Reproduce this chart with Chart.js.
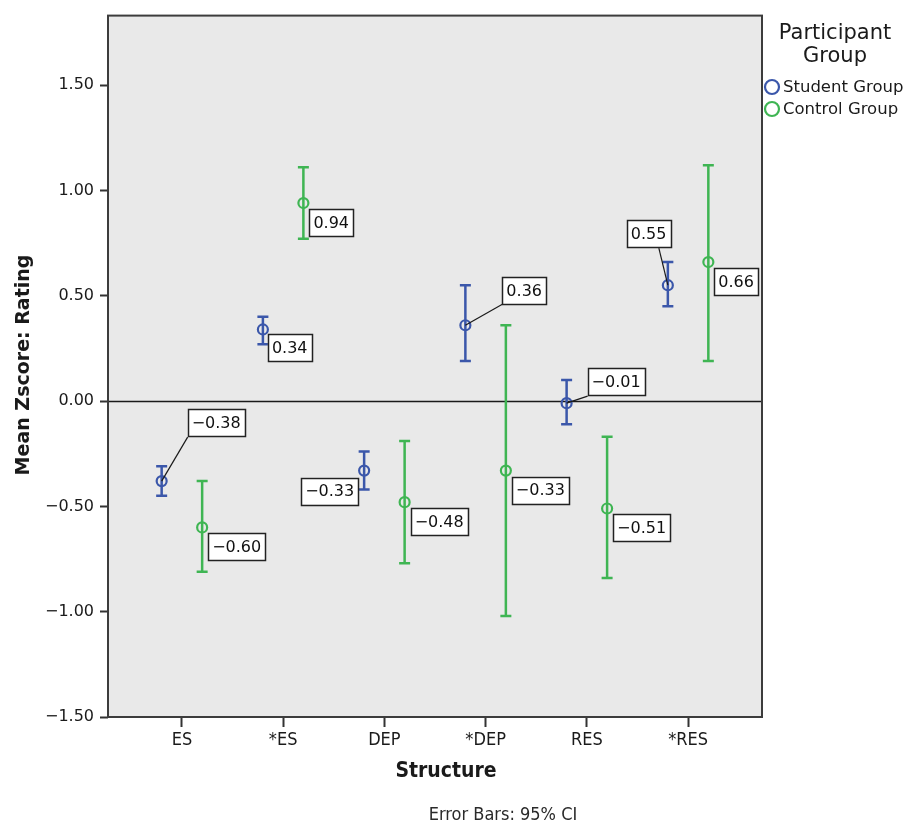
<!DOCTYPE html>
<html>
<head>
<meta charset="utf-8">
<script src="https://cdn.jsdelivr.net/npm/chart.js@4/dist/chart.umd.min.js"></script>
<style>
  html, body { margin: 0; padding: 0; background: #ffffff; }
  #wrap { width: 911px; height: 825px; position: relative; }
</style>
</head>
<body>
<div id="wrap"><canvas id="c" width="911" height="825"></canvas></div>
<script>
// Structures on the x axis
const categories = ['ES', '*ES', 'DEP', '*DEP', 'RES', '*RES'];

// Student group: mean z-score and 95% CI bounds
const studentMean = [-0.38, 0.34, -0.33, 0.36, -0.01, 0.55];
const studentLow  = [-0.45, 0.27, -0.42, 0.19, -0.11, 0.45];
const studentHigh = [-0.31, 0.40, -0.24, 0.55, 0.10, 0.66];

// Control group: mean z-score and 95% CI bounds
const controlMean = [-0.60, 0.94, -0.48, -0.33, -0.51, 0.66];
const controlLow  = [-0.81, 0.77, -0.77, -1.02, -0.84, 0.19];
const controlHigh = [-0.38, 1.11, -0.19, 0.36, -0.17, 1.12];

// Y tick values
const yTicks = [-1.5, -1.0, -0.5, 0.0, 0.5, 1.0, 1.5];

// ---- styling / placement (not data) ----
const STUDENT_COLOR = '#3b57aa';
const CONTROL_COLOR = '#3fb553';
const GROUP_SHIFT = 0.2;            // horizontal dodge of each group within a category
const FONT = '"DejaVu Sans", sans-serif';
const FONT_COND = '"DejaVu Sans Condensed", "DejaVu Sans", sans-serif';

// Value-label box placement relative to its point (px):
// dx,dy = anchor of box top edge; align = which box edge sits at dx; lead = leader line end
const studentLabelPos = [
  { dx: 26,  dy: -72, align: 'left',   lead: [26, -44] },
  { dx: 5,   dy: 5,   align: 'left' },
  { dx: -6,  dy: 7,   align: 'right' },
  { dx: 37,  dy: -48, align: 'left',   lead: [37, -21] },
  { dx: 21,  dy: -35, align: 'left',   lead: [21, -7] },
  { dx: -19, dy: -65, align: 'center', lead: [-9, -37] }
];
const controlLabelPos = [
  { dx: 6, dy: 6, align: 'left' },
  { dx: 6, dy: 6, align: 'left' },
  { dx: 6, dy: 6, align: 'left' },
  { dx: 6, dy: 6, align: 'left' },
  { dx: 6, dy: 6, align: 'left' },
  { dx: 6, dy: 6, align: 'left' }
];

function fmt(v) {
  return v.toFixed(2).replace('-', '\u2212');
}

const groups = [
  { name: 'Student Group', color: STUDENT_COLOR, shift: -GROUP_SHIFT,
    mean: studentMean, low: studentLow, high: studentHigh, labels: studentLabelPos },
  { name: 'Control Group', color: CONTROL_COLOR, shift: GROUP_SHIFT,
    mean: controlMean, low: controlLow, high: controlHigh, labels: controlLabelPos }
];

const decorPlugin = {
  id: 'decor',
  beforeDraw(chart) {
    const { ctx, chartArea: a } = chart;
    ctx.save();
    ctx.fillStyle = '#e9e9e9';
    ctx.fillRect(a.left, a.top, a.right - a.left, a.bottom - a.top);
    ctx.restore();
  },
  beforeDatasetsDraw(chart) {
    const { ctx, chartArea: a, scales: { x, y } } = chart;
    ctx.save();
    // zero reference line
    const y0 = Math.round(y.getPixelForValue(0)) + 0.5;
    ctx.strokeStyle = '#1a1a1a';
    ctx.lineWidth = 1.5;
    ctx.beginPath();
    ctx.moveTo(a.left, y0);
    ctx.lineTo(a.right, y0);
    ctx.stroke();
    // error bars (95% CI)
    groups.forEach(g => {
      ctx.strokeStyle = g.color;
      ctx.lineWidth = 2.5;
      categories.forEach((c, i) => {
        const px = x.getPixelForValue(i + g.shift);
        const pLo = y.getPixelForValue(g.low[i]);
        const pHi = y.getPixelForValue(g.high[i]);
        ctx.beginPath();
        ctx.moveTo(px, pLo); ctx.lineTo(px, pHi);
        ctx.moveTo(px - 5.5, pLo); ctx.lineTo(px + 5.5, pLo);
        ctx.moveTo(px - 5.5, pHi); ctx.lineTo(px + 5.5, pHi);
        ctx.stroke();
      });
    });
    ctx.restore();
  },
  afterDraw(chart) {
    const { ctx, chartArea: a, scales: { x, y } } = chart;
    ctx.save();
    // plot frame
    ctx.strokeStyle = '#3c3c3c';
    ctx.lineWidth = 2;
    ctx.strokeRect(a.left, a.top, a.right - a.left, a.bottom - a.top);

    // value labels
    ctx.font = '16px ' + FONT;
    ctx.textBaseline = 'middle';
    groups.forEach(g => {
      categories.forEach((c, i) => {
        const px = x.getPixelForValue(i + g.shift);
        const py = y.getPixelForValue(g.mean[i]);
        const pos = g.labels[i];
        const txt = fmt(g.mean[i]);
        const w = Math.round(ctx.measureText(txt).width + 8);
        const h = 27;
        let left = px + pos.dx;
        if (pos.align === 'right') left = px + pos.dx - w;
        if (pos.align === 'center') left = px + pos.dx - w / 2;
        const top = py + pos.dy;
        if (pos.lead) {
          ctx.strokeStyle = '#1a1a1a';
          ctx.lineWidth = 1.2;
          ctx.beginPath();
          ctx.moveTo(px, py);
          ctx.lineTo(px + pos.lead[0], py + pos.lead[1]);
          ctx.stroke();
        }
        ctx.fillStyle = '#ffffff';
        ctx.fillRect(left, top, w, h);
        ctx.strokeStyle = '#222222';
        ctx.lineWidth = 1.5;
        ctx.strokeRect(Math.round(left) + 0.5, Math.round(top) + 0.5, w, h);
        ctx.fillStyle = '#111111';
        ctx.textAlign = 'left';
        ctx.fillText(txt, left + 4, top + h / 2 + 1);
      });
    });

    // axis titles
    ctx.fillStyle = '#1a1a1a';
    ctx.textAlign = 'center';
    ctx.textBaseline = 'middle';
    ctx.font = 'bold 21px ' + FONT_COND;
    ctx.fillText('Structure', 446, 772);
    ctx.save();
    ctx.translate(24, 365);
    ctx.rotate(-Math.PI / 2);
    ctx.font = 'bold 19px ' + FONT;
    ctx.fillText('Mean Zscore: Rating', 0, 0);
    ctx.restore();

    // footnote
    ctx.fillStyle = '#2a2a2a';
    ctx.font = '18px ' + FONT_COND;
    ctx.fillText('Error Bars: 95% CI', 503, 815);

    // legend
    ctx.fillStyle = '#1a1a1a';
    ctx.font = '21px ' + FONT;
    ctx.fillText('Participant', 835, 34);
    ctx.fillText('Group', 835, 57);
    ctx.font = '16.5px ' + FONT;
    ctx.textAlign = 'left';
    groups.forEach((g, k) => {
      const cy = 87 + k * 22;
      ctx.strokeStyle = g.color;
      ctx.lineWidth = 2.2;
      ctx.beginPath();
      ctx.arc(772, cy, 7, 0, Math.PI * 2);
      ctx.stroke();
      ctx.fillStyle = '#1a1a1a';
      ctx.fillText(g.name, 783, cy + 1);
    });
    ctx.restore();
  }
};

const datasets = groups.map(g => ({
  label: g.name,
  data: categories.map((c, i) => ({ x: i + g.shift, y: g.mean[i] })),
  borderColor: g.color,
  backgroundColor: 'rgba(0,0,0,0)',
  pointRadius: 5,
  pointBorderWidth: 2.2,
  pointHoverRadius: 5,
  showLine: false
}));

new Chart(document.getElementById('c'), {
  type: 'scatter',
  data: { datasets },
  options: {
    responsive: false,
    devicePixelRatio: 1,
    animation: false,
    events: [],
    layout: { padding: { top: 13, right: 149, left: 0, bottom: 0 } },
    plugins: { legend: { display: false }, tooltip: { enabled: false } },
    scales: {
      x: {
        type: 'linear',
        min: -0.73,
        max: 5.73,
        afterFit(s) { s.height = 108; },
        afterBuildTicks(s) { s.ticks = categories.map((c, i) => ({ value: i })); },
        ticks: {
          autoSkip: false,
          maxRotation: 0,
          padding: 3,
          color: '#1a1a1a',
          font: { family: FONT_COND, size: 18 },
          callback: v => categories[v]
        },
        grid: { drawOnChartArea: false, drawTicks: true, tickLength: 10, tickColor: '#333', tickWidth: 2 },
        border: { display: false }
      },
      y: {
        type: 'linear',
        min: -1.5,
        max: 1.83,
        afterFit(s) { s.width = 108; },
        afterBuildTicks(s) { s.ticks = yTicks.map(v => ({ value: v })); },
        ticks: {
          padding: 6,
          color: '#1a1a1a',
          font: { family: FONT, size: 16 },
          callback: v => fmt(v)
        },
        grid: { drawOnChartArea: false, drawTicks: true, tickLength: 8, tickColor: '#333', tickWidth: 2 },
        border: { display: false }
      }
    }
  },
  plugins: [decorPlugin]
});
</script>
</body>
</html>
